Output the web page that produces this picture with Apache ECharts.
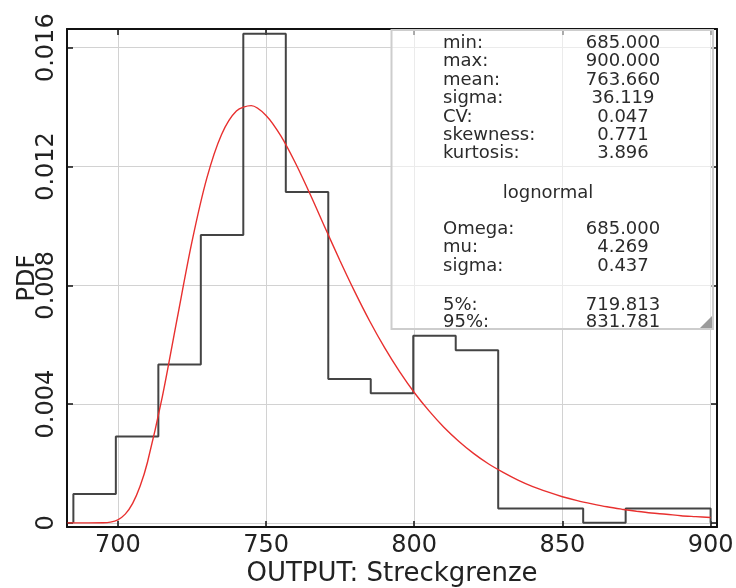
<!DOCTYPE html>
<html>
<head>
<meta charset="utf-8">
<script src="https://cdn.jsdelivr.net/npm/echarts@6/dist/echarts.min.js"></script>
<style>
  html, body { margin: 0; padding: 0; background: #fff; }
  #chart { width: 736px; height: 588px; }
</style>
</head>
<body>
<div id="chart"></div>
<script>
// Histogram of the "Streckgrenze" output: bin edges and probability density per bin
const binEdges = [685, 699.33, 713.67, 728, 742.33, 756.67, 771, 785.33, 799.67, 814, 828.33, 842.67, 857, 871.33, 885.67, 900];
const binDensity = [0.00097, 0.00291, 0.00533, 0.00969, 0.01647, 0.01114, 0.00484, 0.00436, 0.0063, 0.00581, 0.00048, 0.00048, 0, 0.00048, 0.00048];

// Fitted lognormal density, sampled along x
const curveX = [683, 685, 690, 695, 697.5, 700, 702.5, 705, 707.5, 710, 715, 720, 725, 730, 735, 740, 745, 750, 755, 760, 765, 770, 775, 780, 785, 790, 795, 800, 805, 810, 815, 820, 825, 830, 835, 840, 845, 850, 855, 860, 865, 870, 875, 880, 885, 890, 895, 900];
const curveY = [0, 0, 0, 0.000004, 0.000026, 0.000103, 0.000293, 0.000655, 0.00123, 0.00204, 0.00424, 0.00687, 0.00946, 0.0116, 0.01308, 0.01387, 0.01405, 0.01372, 0.01303, 0.0121, 0.01104, 0.00992, 0.00882, 0.00777, 0.00679, 0.0059, 0.0051, 0.00439, 0.00377, 0.00322, 0.00275, 0.00234, 0.00199, 0.0017, 0.00144, 0.00122, 0.00104, 0.00088, 0.00075, 0.00064, 0.00054, 0.00046, 0.00039, 0.00033, 0.00029, 0.00024, 0.00021, 0.00018];

// Axis ticks
const xTicks = [700, 750, 800, 850, 900];
const yTicks = [0, 0.004, 0.008, 0.012, 0.016];
const xRange = [682.85, 902.15];
const yRange = [-0.00014, 0.01663];

// Statistics panel text
const statLabels = ['min:', 'max:', 'mean:', 'sigma:', 'CV:', 'skewness:', 'kurtosis:'];
const statValues = ['685.000', '900.000', '763.660', '36.119', '0.047', '0.771', '3.896'];
const fitTitle = 'lognormal';
const fitLabels = ['Omega:', 'mu:', 'sigma:'];
const fitValues = ['685.000', '4.269', '0.437'];
const pctLabels = ['5%:', '95%:'];
const pctValues = ['719.813', '831.781'];

// Outline of the histogram as a stepped polyline
const histPoints = [[binEdges[0], 0]];
binDensity.forEach((d, i) => {
  histPoints.push([binEdges[i], d]);
  histPoints.push([binEdges[i + 1], d]);
});
histPoints.push([binEdges[binEdges.length - 1], 0]);

const curvePoints = curveX.map((x, i) => [x, curveY[i]]);

const FONT = "'DejaVu Sans', Verdana, sans-serif";
const panelFont = '18px ' + FONT;
const panelColor = '#2b2b2b';

// Panel layout (pixels)
const panel = { x: 391.5, y: 30, w: 321.5, h: 299 };
const labelX = 443, valueX = 623;
const rowH = 18.4;

function textEl(text, x, y, align) {
  return {
    type: 'text', silent: true, z: 102,
    style: {
      text: text, x: x, y: y, font: panelFont, fill: panelColor,
      textAlign: align, textVerticalAlign: 'middle',
      align: align, verticalAlign: 'middle'
    }
  };
}

const panelEls = [
  {
    type: 'rect', z: 100, silent: true,
    shape: { x: panel.x, y: panel.y, width: panel.w, height: panel.h },
    style: { fill: 'rgba(255,255,255,0.55)', stroke: '#cdcdcd', lineWidth: 2 }
  },
  {
    type: 'polygon', z: 101, silent: true,
    shape: { points: [[panel.x + panel.w - 13, panel.y + panel.h - 1], [panel.x + panel.w - 1, panel.y + panel.h - 1], [panel.x + panel.w - 1, panel.y + panel.h - 13]] },
    style: { fill: '#9a9a9a' }
  }
];
statLabels.forEach((t, i) => {
  panelEls.push(textEl(t, labelX, 43.3 + i * rowH, 'left'));
  panelEls.push(textEl(statValues[i], valueX, 43.3 + i * rowH, 'center'));
});
panelEls.push(textEl(fitTitle, 548, 193.3, 'center'));
fitLabels.forEach((t, i) => {
  panelEls.push(textEl(t, labelX, 229.3 + i * rowH, 'left'));
  panelEls.push(textEl(fitValues[i], valueX, 229.3 + i * rowH, 'center'));
});
pctLabels.forEach((t, i) => {
  panelEls.push(textEl(t, labelX, 305 + i * 17.8, 'left'));
  panelEls.push(textEl(pctValues[i], valueX, 305 + i * 17.8, 'center'));
});

const chart = echarts.init(document.getElementById('chart'), null, { renderer: 'canvas' });

const frameLine = { show: true, onZero: false, lineStyle: { color: '#111', width: 2 } };
const tickStyle = { show: true, inside: true, length: 6, lineStyle: { color: '#111', width: 1.5 } };

chart.setOption({
  animation: false,
  backgroundColor: '#fff',
  grid: { left: 67, right: 19, top: 29, bottom: 61, containLabel: false, outerBoundsMode: 'none' },
  xAxis: [
    {
      type: 'value', position: 'bottom', min: xRange[0], max: xRange[1],
      axisLine: frameLine,
      axisTick: Object.assign({ customValues: xTicks }, tickStyle),
      axisLabel: { customValues: xTicks, fontSize: 24, fontFamily: FONT, color: '#222', margin: 7 },
      splitLine: { show: true, lineStyle: { color: '#d2d2d2', width: 1 } },
      name: 'OUTPUT: Streckgrenze', nameLocation: 'middle', nameGap: 34, nameMoveOverlap: false,
      nameTextStyle: { fontSize: 26, fontFamily: FONT, color: '#222' }
    },
    {
      type: 'value', position: 'top', min: xRange[0], max: xRange[1],
      axisLine: frameLine,
      axisTick: Object.assign({ customValues: xTicks }, tickStyle),
      axisLabel: { show: false },
      splitLine: { show: false }
    }
  ],
  yAxis: [
    {
      type: 'value', position: 'left', min: yRange[0], max: yRange[1],
      axisLine: frameLine,
      axisTick: Object.assign({ customValues: yTicks }, tickStyle),
      axisLabel: {
        customValues: yTicks, rotate: 90, fontSize: 24, fontFamily: FONT, color: '#222', margin: 8,
        formatter: v => (v === 0 ? '0' : v.toFixed(3))
      },
      splitLine: { show: true, lineStyle: { color: '#d2d2d2', width: 1 } },
      name: 'PDF', nameLocation: 'middle', nameRotate: 90, nameGap: 27, nameMoveOverlap: false,
      nameTextStyle: { fontSize: 24, fontFamily: FONT, color: '#222' }
    },
    {
      type: 'value', position: 'right', min: yRange[0], max: yRange[1],
      axisLine: frameLine,
      axisTick: Object.assign({ customValues: yTicks }, tickStyle),
      axisLabel: { show: false },
      splitLine: { show: false }
    }
  ],
  series: [
    {
      name: 'histogram', type: 'line', xAxisIndex: 0, yAxisIndex: 0,
      data: histPoints, symbol: 'none', z: 3,
      lineStyle: { color: '#444', width: 2 }
    },
    {
      name: 'lognormal', type: 'line', xAxisIndex: 0, yAxisIndex: 0,
      data: curvePoints, symbol: 'none', smooth: 0.3, z: 4,
      lineStyle: { color: '#e8302f', width: 1.4 }
    }
  ],
  graphic: { elements: panelEls }
});
</script>
</body>
</html>
